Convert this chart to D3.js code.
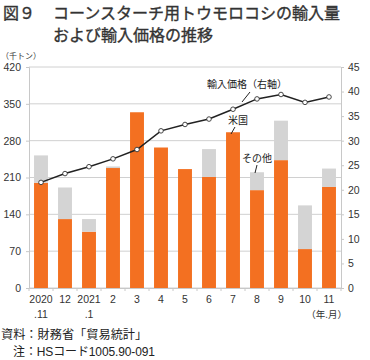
<!DOCTYPE html>
<html><head><meta charset="utf-8">
<script src="https://cdn.jsdelivr.net/npm/d3@7"></script>
<style>
html,body{margin:0;padding:0;background:#fff;}
svg{display:block;}
</style></head>
<body>
<svg id="c" width="370" height="360"></svg>
<script>
const categories = ["2020\n.11","12","2021\n.1","2","3","4","5","6","7","8","9","10","11"];
const usImports = [200,131,107,228,334,267,226,211,296,186,243,74,192];
const otherImports = [52,60,24,3,0,0,0,53,0,34,75,83,35];
const importPrice = [21.5,23.3,24.7,26.3,28.2,32.0,33.3,34.4,36.4,38.5,39.4,37.8,38.9];
const leftTicks = [0,70,140,210,280,350,420];
const rightTicks = [0,5,10,15,20,25,30,35,40,45];

const svg = d3.select("#c");
const JP = "'Noto Sans CJK JP','Noto Sans',sans-serif";
const NUM = "'Liberation Sans',Arial,sans-serif";
const x0 = 29, x1 = 341, yTop = 67, yBot = 288;

const x = d3.scaleBand().domain(categories).range([x0,x1]).paddingInner(0.42).paddingOuter(0.21);
const yL = d3.scaleLinear().domain([0,420]).range([yBot,yTop]);
const yR = d3.scaleLinear().domain([0,45]).range([yBot,yTop]);

// title
const tt = (tx,ty,s)=>svg.append("text").attr("x",tx).attr("y",ty).attr("font-family",JP).attr("font-size",16)
  .attr("fill","#333").attr("stroke","#333").attr("stroke-width",0.35).text(s);
tt(3,19,"図９");
tt(53,19,"コーンスターチ用トウモロコシの輸入量");
tt(53,41,"および輸入価格の推移");
svg.append("text").attr("x",1).attr("y",59).attr("font-family",JP).attr("font-size",8).attr("fill","#333").text("（千トン）");

// gridlines
svg.append("g").selectAll("line").data(leftTicks).join("line")
  .attr("x1",x0).attr("x2",x1).attr("y1",d=>yL(d)).attr("y2",d=>yL(d))
  .attr("stroke","#d0d0d0").attr("stroke-width",1);

// bars
const g = svg.append("g");
g.selectAll(".us").data(categories).join("rect")
  .attr("x",d=>x(d)).attr("width",x.bandwidth())
  .attr("y",(d,i)=>yL(usImports[i])).attr("height",(d,i)=>yBot-yL(usImports[i]))
  .attr("fill","#F37021");
g.selectAll(".ot").data(categories).join("rect")
  .attr("x",d=>x(d)).attr("width",x.bandwidth())
  .attr("y",(d,i)=>yL(usImports[i]+otherImports[i])).attr("height",(d,i)=>yL(usImports[i])-yL(usImports[i]+otherImports[i]))
  .attr("fill","#D4D4D4");

// axes
const axL = svg.append("g").attr("transform",`translate(${x0},0)`)
  .call(d3.axisLeft(yL).tickValues(leftTicks).tickSize(3).tickPadding(5));
const axR = svg.append("g").attr("transform",`translate(${x1},0)`)
  .call(d3.axisRight(yR).tickValues(rightTicks).tickSize(3).tickPadding(4));
const axB = svg.append("g").attr("transform",`translate(0,${yBot})`)
  .call(d3.axisBottom(x).tickSize(0).tickPadding(8));
[axL,axR,axB].forEach(a=>{
  a.select(".domain").attr("stroke","#c8c8c8");
  a.selectAll(".tick line").attr("stroke","#c8c8c8");
  a.selectAll("text").attr("font-family",NUM).attr("font-size",10.5).attr("fill","#333");
});
axB.selectAll(".tick text").each(function(d){
  const t = d3.select(this); const parts = d.split("\n");
  t.text(null);
  parts.forEach((p,i)=>t.append("tspan").attr("x",0).attr("dy",i===0?"0.71em":"1.4em").text(p));
});
// bottom boundary ticks
svg.append("g").selectAll("line").data(d3.range(categories.length+1)).join("line")
  .attr("x1",i=>x0+x.step()*i).attr("x2",i=>x0+x.step()*i)
  .attr("y1",yBot).attr("y2",yBot+3).attr("stroke","#c8c8c8");

svg.append("text").attr("x",347).attr("y",318).attr("text-anchor","end")
  .attr("font-family",JP).attr("font-size",9.5).attr("fill","#333").text("（年.月）");

// price line
const line = d3.line().x((d,i)=>x(categories[i])+x.bandwidth()/2).y(d=>yR(d));
svg.append("path").datum(importPrice).attr("d",line).attr("fill","none").attr("stroke","#222").attr("stroke-width",1.5);
svg.append("g").selectAll("circle").data(importPrice).join("circle")
  .attr("cx",(d,i)=>x(categories[i])+x.bandwidth()/2).attr("cy",d=>yR(d)).attr("r",2.3)
  .attr("fill","#fff").attr("stroke","#333").attr("stroke-width",0.9);

// annotations
const ann = (tx,ty,txt,lx1,ly1,lx2,ly2)=>{
  svg.append("text").attr("x",tx).attr("y",ty).attr("font-family",JP).attr("font-size",10).attr("fill","#222").text(txt);
  svg.append("line").attr("x1",lx1).attr("y1",ly1).attr("x2",lx2).attr("y2",ly2).attr("stroke","#222").attr("stroke-width",1);
};
ann(207,88,"輸入価格（右軸）",250,92,242,102);
ann(228,124,"米国",235,127,231,134);
ann(242,162,"その他",257,165,255,173);

// footer
svg.append("text").attr("x",1).attr("y",339).attr("font-family",JP).attr("font-size",12.2)
  .attr("fill","#222").text("資料：財務省「貿易統計」");
const f2 = svg.append("text").attr("x",13).attr("y",356).attr("font-family",JP).attr("font-size",12).attr("fill","#222")
  .attr("textLength",142).attr("lengthAdjust","spacing");
f2.append("tspan").text("注：");
f2.append("tspan").attr("font-family",NUM).attr("font-size",12).text("HS");
f2.append("tspan").text("コード");
f2.append("tspan").attr("font-family",NUM).attr("font-size",12).text("1005.90-091");
</script>
</body></html>
